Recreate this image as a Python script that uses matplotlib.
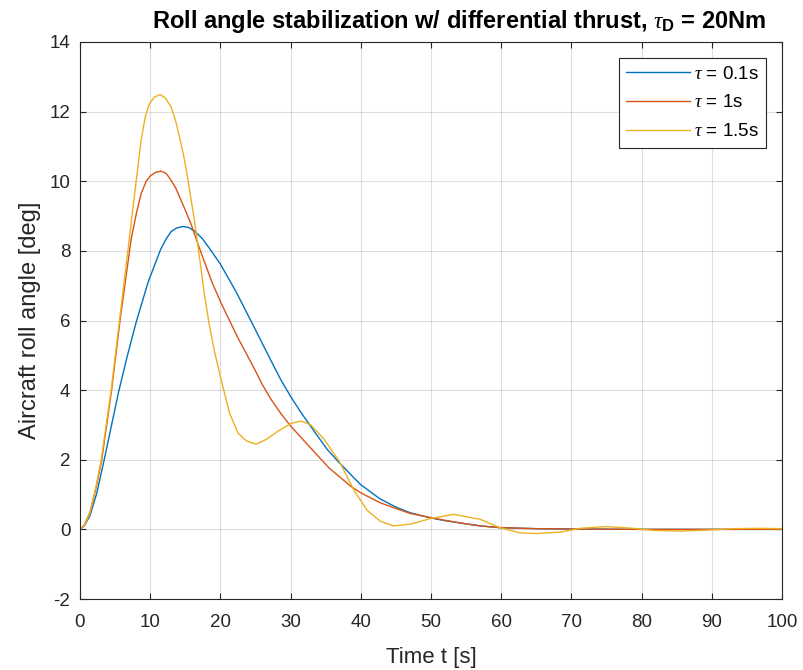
import matplotlib.pyplot as plt

plt.rcParams['font.family'] = ['Liberation Sans', 'DejaVu Sans']
plt.rcParams['mathtext.fontset'] = 'custom'
plt.rcParams['mathtext.rm'] = 'Liberation Sans'
plt.rcParams['mathtext.it'] = 'Liberation Serif:italic'
plt.rcParams['mathtext.bf'] = 'Liberation Sans:bold'
plt.rcParams['axes.unicode_minus'] = False

# tau = 0.1 s
t_fast = [0, 0.6, 1.4, 2.4, 3.5, 4.5, 5.5, 6.7, 8.0, 9.7, 11.5, 12.3, 13.0, 13.8,
          14.65, 15.5, 16.3, 17.4, 18.45, 20.0, 22.3, 24.7, 27.1, 28.6, 30.0, 31.5,
          32.9, 35.2, 37.0, 39.9, 42.7, 45.0, 47.0, 49.9, 52.0, 54.6, 57.0, 59.8,
          65.0, 70.0, 80.0, 90.0, 100.0]
roll_fast = [0, 0.1, 0.38, 1.05, 2.05, 3.0, 3.95, 4.95, 5.95, 7.1, 8.05, 8.35, 8.56,
             8.66, 8.70, 8.67, 8.57, 8.36, 8.07, 7.62, 6.8, 5.85, 4.89, 4.3, 3.82,
             3.35, 2.95, 2.3, 1.9, 1.3, 0.88, 0.64, 0.48, 0.33, 0.25, 0.17, 0.1,
             0.05, 0.02, 0.01, 0, 0, 0]

# tau = 1 s
t_mid = [0, 0.6, 1.4, 2.3, 3.1, 4.5, 5.7, 7.06, 7.3, 8.0, 8.7, 9.43, 10.0, 10.8,
         11.6, 12.3, 13.0, 13.7, 14.4, 15.1, 15.8, 16.8, 17.7, 18.8, 20.1, 22.5,
         24.8, 26.0, 27.2, 28.6, 30.0, 32.8, 35.5, 38.5, 39.9, 42.7, 45.0, 47.0,
         49.9, 52.0, 54.6, 57.0, 59.8, 65.0, 70.0, 80.0, 90.0, 100.0]
roll_mid = [0, 0.12, 0.48, 1.2, 2.0, 4.0, 6.0, 8.0, 8.35, 9.05, 9.64, 10.0, 10.15,
            10.26, 10.29, 10.22, 10.02, 9.78, 9.45, 9.12, 8.78, 8.2, 7.7, 7.1, 6.5,
            5.5, 4.63, 4.15, 3.74, 3.33, 2.97, 2.35, 1.76, 1.25, 1.06, 0.77, 0.6,
            0.46, 0.34, 0.26, 0.17, 0.1, 0.05, 0.02, 0.01, 0, 0, 0]

# tau = 1.5 s
t_slow = [0, 0.6, 1.36, 2.2, 3.02, 4.44, 5.63, 6.82, 7.4, 8.0, 8.72, 9.3, 9.83,
          10.6, 11.42, 12.2, 12.99, 13.6, 14.18, 14.8, 15.37, 16.32, 17.03, 17.72,
          18.4, 19.15, 20.1, 21.3, 22.5, 23.7, 25.1, 26.5, 28.2, 30.0, 31.5, 32.9,
          34.8, 36.95, 39.06, 40.9, 42.8, 44.7, 47.1, 49.9, 53.2, 57.0, 59.8, 62.7,
          65.0, 68.4, 71.2, 75.0, 78.8, 81.7, 85.5, 89.3, 93.1, 96.9, 100.0]
roll_slow = [0, 0.12, 0.43, 1.15, 2.0, 4.0, 6.0, 8.0, 9.0, 10.0, 11.2, 11.85, 12.2,
             12.42, 12.49, 12.38, 12.13, 11.75, 11.27, 10.7, 10.05, 8.85, 7.8, 6.75,
             5.9, 5.12, 4.3, 3.34, 2.77, 2.54, 2.45, 2.58, 2.82, 3.04, 3.11, 3.0,
             2.58, 1.95, 1.11, 0.55, 0.23, 0.1, 0.15, 0.31, 0.43, 0.29, 0.05, -0.10,
             -0.12, -0.08, 0.03, 0.08, 0.03, -0.03, -0.05, -0.02, 0.02, 0.03, 0.02]

labels = [r'$\tau$ = 0.1s', r'$\tau$ = 1s', r'$\tau$ = 1.5s']
colors = ['#0072BD', '#D95319', '#EDB120']

x_ticks = list(range(0, 101, 10))
y_ticks = list(range(-2, 15, 2))

DARK = '#262626'

fig = plt.figure(figsize=(8.04, 6.70), dpi=100)
ax = fig.add_axes([80 / 804, 71 / 670, 702 / 804, 557 / 670])

for t, r, lab, c in zip([t_fast, t_mid, t_slow], [roll_fast, roll_mid, roll_slow],
                        labels, colors):
    ax.plot(t, r, color=c, linewidth=1.0, label=lab)

ax.set_xlim(0, 100)
ax.set_ylim(-2, 14)
ax.set_xticks(x_ticks)
ax.set_yticks(y_ticks)
ax.grid(True, color=DARK, alpha=0.15, linewidth=0.8)
ax.tick_params(direction='in', top=True, right=True, length=4, colors=DARK,
               labelsize=13.5)
ax.tick_params(axis='x', pad=11)
ax.tick_params(axis='y', pad=7)
for sp in ax.spines.values():
    sp.set_color(DARK)
    sp.set_linewidth(0.8)

ax.set_xlabel('Time t [s]', fontsize=16, color=DARK, labelpad=11)
ax.set_ylabel('Aircraft roll angle [deg]', fontsize=17, color=DARK, labelpad=6)
ax.set_title(r'Roll angle stabilization w/ differential thrust, $\tau_{\mathbf{D}}$ = 20Nm',
             fontsize=17, fontweight='bold', pad=10, x=0.54)

leg = ax.legend(loc='upper right', fontsize=13.5, fancybox=False, framealpha=1,
                edgecolor=DARK, borderaxespad=0.85, handlelength=3.4,
                handletextpad=0.2, borderpad=0.4, labelspacing=0.62)
leg.get_frame().set_linewidth(0.8)

fig.savefig('out.png', dpi=100)
